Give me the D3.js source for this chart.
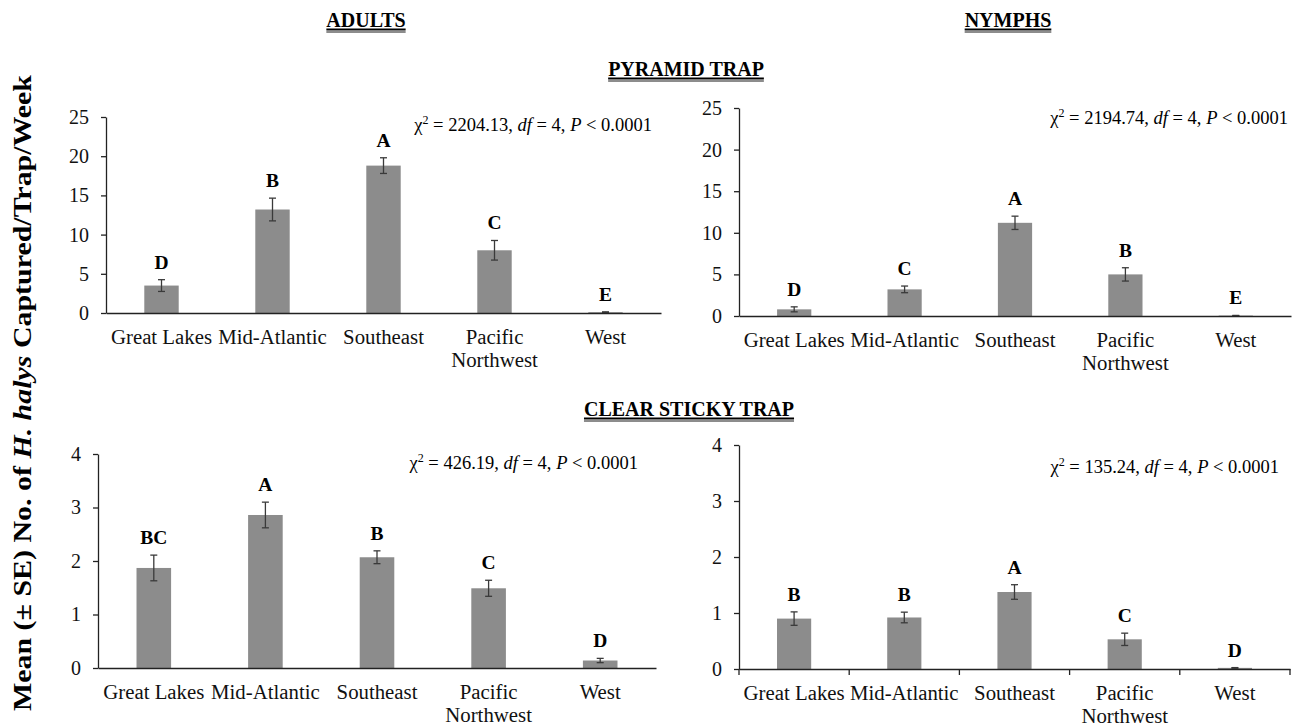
<!DOCTYPE html>
<html lang="en">
<head>
<meta charset="utf-8">
<script src="https://cdn.jsdelivr.net/npm/d3@7"></script>
<style>
    body { margin: 0; background: #fff; }
    text { font-family: "Liberation Serif", "Times New Roman", serif; fill: #000; }
    .bar { fill: #8c8c8c; }
    .err { stroke: #3a3a3a; stroke-width: 1.3px; }
    .axis path, .axis line { stroke: #222; stroke-width: 1.3px; }
    .axis text { font-size: 20px; fill: #111; }
    .cat { font-size: 20.8px; fill: #111; text-anchor: middle; }
    .letter { font-size: 19.5px; font-weight: bold; text-anchor: middle; }
    .chi { font-size: 18.5px; text-anchor: end; }
    .title { font-size: 20px; font-weight: bold; text-anchor: middle; }
    .uline { stroke: #000; }
</style>
</head>
<body>
<script>
    // categories
    const regions = ["Great Lakes", "Mid-Atlantic", "Southeast", "Pacific Northwest", "West"];
    const regionLines = [["Great Lakes"], ["Mid-Atlantic"], ["Southeast"], ["Pacific", "Northwest"], ["West"]];

    // adults, pyramid trap
    const adultsPyramidMean = [3.5, 13.2, 18.8, 8.0, 0.1];
    const adultsPyramidSE = [0.75, 1.45, 1.0, 1.25, 0.05];
    const adultsPyramidLetters = ["D", "B", "A", "C", "E"];

    // nymphs, pyramid trap
    const nymphsPyramidMean = [0.8, 3.2, 11.2, 5.0, 0.05];
    const nymphsPyramidSE = [0.3, 0.4, 0.8, 0.8, 0.02];
    const nymphsPyramidLetters = ["D", "C", "A", "B", "E"];

    // adults, clear sticky trap
    const adultsStickyMean = [1.87, 2.86, 2.07, 1.49, 0.14];
    const adultsStickySE = [0.24, 0.24, 0.12, 0.15, 0.04];
    const adultsStickyLetters = ["BC", "A", "B", "C", "D"];

    // nymphs, clear sticky trap
    const nymphsStickyMean = [0.9, 0.92, 1.375, 0.53, 0.02];
    const nymphsStickySE = [0.12, 0.095, 0.13, 0.11, 0.005];
    const nymphsStickyLetters = ["B", "B", "A", "C", "D"];

    // y tick labels and test statistics
    const pyramidTicks = [0, 5, 10, 15, 20, 25];
    const stickyTicks = [0, 1, 2, 3, 4];
    const chiValues = ["2204.13", "2194.74", "426.19", "135.24"];

    const panels = [
        {mean: adultsPyramidMean, se: adultsPyramidSE, letters: adultsPyramidLetters, ticks: pyramidTicks, chi: chiValues[0],
            x0: 106, x1: 661, yTop: 117, y0: 313, chiX: 652, chiY: 131},
        {mean: nymphsPyramidMean, se: nymphsPyramidSE, letters: nymphsPyramidLetters, ticks: pyramidTicks, chi: chiValues[1],
            x0: 739, x1: 1291, yTop: 108, y0: 316, chiX: 1288, chiY: 124},
        {mean: adultsStickyMean, se: adultsStickySE, letters: adultsStickyLetters, ticks: stickyTicks, chi: chiValues[2],
            x0: 98, x1: 656, yTop: 454, y0: 668, chiX: 638, chiY: 469},
        {mean: nymphsStickyMean, se: nymphsStickySE, letters: nymphsStickyLetters, ticks: stickyTicks, chi: chiValues[3],
            x0: 739, x1: 1290, yTop: 445, y0: 669, chiX: 1279, chiY: 473, boundaryTicks: true}
    ];

    let svg = d3.select("body").append("svg")
        .attr("width", 1303).attr("height", 727);

    panels.forEach(function (p) {
        let g = svg.append("g");
        let x = d3.scaleBand().domain(regions).range([p.x0, p.x1]);
        let y = d3.scaleLinear().domain([0, d3.max(p.ticks)]).range([p.y0, p.yTop]);
        let barW = x.bandwidth() * 0.31;
        let rows = regions.map(function (r, i) {
            return {region: r, lines: regionLines[i], mean: p.mean[i], se: p.se[i], letter: p.letters[i]};
        });

        g.append("g").selectAll("rect").data(rows).enter().append("rect")
            .attr("class", "bar")
            .attr("x", d => x(d.region) + x.bandwidth() / 2 - barW / 2)
            .attr("y", d => y(d.mean))
            .attr("width", barW)
            .attr("height", d => p.y0 - y(d.mean));

        // error bars + letters
        let eb = g.append("g").selectAll("g").data(rows).enter().append("g")
            .attr("transform", d => "translate(" + (x(d.region) + x.bandwidth() / 2) + ",0)");
        eb.append("line").attr("class", "err")
            .attr("y1", d => y(d.mean - d.se)).attr("y2", d => y(d.mean + d.se));
        eb.append("line").attr("class", "err").attr("x1", -3.5).attr("x2", 3.5)
            .attr("y1", d => y(d.mean + d.se)).attr("y2", d => y(d.mean + d.se));
        eb.append("line").attr("class", "err").attr("x1", -3.5).attr("x2", 3.5)
            .attr("y1", d => y(d.mean - d.se)).attr("y2", d => y(d.mean - d.se));
        eb.append("text").attr("class", "letter")
            .attr("y", d => y(d.mean + d.se) - 11)
            .text(d => d.letter);

        // y axis
        g.append("g").attr("class", "axis")
            .attr("transform", "translate(" + p.x0 + ",0)")
            .call(d3.axisLeft(y).tickValues(p.ticks).tickFormat(d3.format("d"))
                .tickSize(5).tickSizeOuter(0).tickPadding(12));

        // x axis
        g.append("g").attr("class", "axis")
            .attr("transform", "translate(0," + p.y0 + ")")
            .call(d3.axisBottom(x).tickSize(0).tickSizeOuter(0).tickFormat(""));
        if (p.boundaryTicks) {
            g.append("g").attr("class", "axis").selectAll("line")
                .data(regions.map(r => x(r)).concat([p.x1]))
                .enter().append("line")
                .attr("x1", d => d).attr("x2", d => d)
                .attr("y1", p.y0).attr("y2", p.y0 + 6);
        }

        // category labels
        let cats = g.append("g").selectAll("text").data(rows).enter().append("text")
            .attr("class", "cat")
            .attr("x", d => x(d.region) + x.bandwidth() / 2)
            .attr("y", p.y0 + 31);
        cats.selectAll("tspan").data(d => d.lines).enter().append("tspan")
            .attr("x", function () { return d3.select(this.parentNode).attr("x"); })
            .attr("dy", (d, i) => i === 0 ? 0 : 23)
            .text(d => d);

        // chi-square note
        let chi = g.append("text").attr("class", "chi").attr("x", p.chiX).attr("y", p.chiY);
        chi.append("tspan").text("\u03c7");
        chi.append("tspan").attr("font-size", "12px").attr("dy", -7).text("2");
        chi.append("tspan").attr("dy", 7).text(" = " + p.chi + ", ");
        chi.append("tspan").attr("font-style", "italic").text("df");
        chi.append("tspan").text(" = 4, ");
        chi.append("tspan").attr("font-style", "italic").text("P");
        chi.append("tspan").text(" < 0.0001");
    });

    // headings with double underline
    const headings = [
        {text: "ADULTS", x: 366, y: 27},
        {text: "NYMPHS", x: 1008, y: 27},
        {text: "PYRAMID TRAP", x: 686, y: 76},
        {text: "CLEAR STICKY TRAP", x: 689, y: 416}
    ];
    headings.forEach(function (h) {
        let t = svg.append("text").attr("class", "title").attr("x", h.x).attr("y", h.y).text(h.text);
        let w = t.node().getComputedTextLength();
        svg.append("line").attr("class", "uline").attr("stroke-width", 1.8)
            .attr("x1", h.x - w / 2).attr("x2", h.x + w / 2).attr("y1", h.y + 2.5).attr("y2", h.y + 2.5);
        svg.append("line").attr("class", "uline").attr("stroke-width", 0.9)
            .attr("x1", h.x - w / 2).attr("x2", h.x + w / 2).attr("y1", h.y + 5).attr("y2", h.y + 5);
    });

    // shared y label
    let yl = svg.append("text")
        .attr("transform", "translate(31,393) rotate(-90)")
        .attr("text-anchor", "middle")
        .attr("font-size", "26px").attr("font-weight", "bold")
        .attr("textLength", 636).attr("lengthAdjust", "spacingAndGlyphs");
    yl.append("tspan").text("Mean (\u00b1 SE) No. of ");
    yl.append("tspan").attr("font-style", "italic").text("H. halys");
    yl.append("tspan").text(" Captured/Trap/Week");
</script>
</body>
</html>
